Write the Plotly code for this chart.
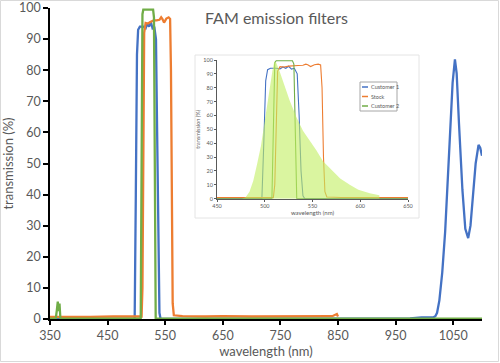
import plotly.graph_objects as go

# ---------------- data ----------------
cust1_wl = [350, 497, 499, 501, 503, 506, 512, 516, 519, 522, 525, 528, 531, 534, 536, 538, 540, 542,
            950, 975, 995, 1005, 1015, 1019, 1022, 1026, 1031, 1036, 1040, 1045, 1049, 1053, 1056,
            1060, 1066, 1071, 1076, 1080, 1085, 1089, 1094, 1097, 1100]
cust1_tr = [0, 0, 40, 85, 93, 94, 94, 93.5, 95, 94, 95.5, 93.5, 94, 90, 60, 20, 2, 0,
            0, 0.2, 0.5, 0.6, 0.5, 0.9, 2, 6, 15, 28, 41.5, 62, 76, 83.5, 79,
            63, 41.5, 29, 26, 30, 40, 50, 56, 55, 52.5]

stock_wl = [350, 380, 420, 460, 500, 509, 510.5, 512, 513.5, 516, 520, 525, 530, 535, 540, 543, 545,
            548, 552, 556, 558.5, 560, 561.5, 563, 565, 580, 620, 650, 700, 760, 800, 840, 848, 850]
stock_tr = [0.7, 0.8, 0.7, 0.8, 0.8, 0.8, 10, 60, 92, 95.2, 95, 95.6, 96, 96, 96.2, 97, 96.5,
            95.3, 96.6, 97, 96.5, 80, 30, 5, 1.2, 0.9, 0.8, 0.9, 0.8, 0.9, 0.8, 0.9, 1.6, 0.8]

cust2_wl = [350, 360, 362, 363.5, 365, 366.5, 368, 370, 507.5, 509, 510.5, 512, 529, 530.5, 532, 533.5, 1100]
cust2_tr = [0.1, 0.1, 3, 5.6, 2.5, 5, 0.3, 0.1, 0.1, 40, 98, 99.5, 99.5, 97, 40, 0.1, 0.1]

fam_wl = [476, 480, 484, 488, 492, 496, 500, 503, 506, 508, 510, 512, 515, 520, 526, 533, 540, 547,
          554, 561, 568, 579, 589, 598, 610, 620, 620.01]
fam_em = [0, 1, 5, 13, 25, 38, 56, 70, 82, 92, 99, 98, 93, 83, 71, 59, 49, 42,
          35, 27, 22, 14.5, 10, 6.5, 4, 2.5, 0]

series_names = ["Customer 1", "Stock", "Customer 2"]
series_colors = ["#4472C4", "#ED7D31", "#70AD47"]
series_data = [(cust1_wl, cust1_tr), (stock_wl, stock_tr), (cust2_wl, cust2_tr)]

main_title = "FAM emission filters"
x_title = "wavelength (nm)"
y_title = "transmission (%)"

# ---------------- layout geometry ----------------
W, H = 500, 363
L, R, T, B = 50, 18, 8, 44
PW, PH = W - L - R, H - T - B


def px_x(x):
    return (x - L) / PW


def px_y(y):
    return (H - B - y) / PH


FONT = "Lato, Open Sans, sans-serif"
GREY = "#595959"
fig = go.Figure()

# main chart lines
for name, col, (wl, tr) in zip(series_names, series_colors, series_data):
    fig.add_trace(go.Scatter(x=wl, y=tr, mode="lines", name=name, showlegend=False,
                             line=dict(color=col, width=2.3), xaxis="x", yaxis="y"))

# inset lines
for name, col, (wl, tr) in zip(series_names, series_colors, series_data):
    fig.add_trace(go.Scatter(x=wl, y=tr, mode="lines", name=name, showlegend=False,
                             line=dict(color=col, width=1.1), xaxis="x2", yaxis="y2"))

# FAM emission fill (overlays the lines)
fig.add_trace(go.Scatter(x=fam_wl, y=fam_em, mode="lines", fill="tozeroy", showlegend=False,
                         line=dict(width=0, color="rgba(193,238,97,0)"),
                         fillcolor="rgba(193,238,97,0.6)", xaxis="x2", yaxis="y2"))

tick_font = dict(family=FONT, size=12.5, color=GREY)
small_font = dict(family=FONT, size=5.5, color=GREY)

inset_x = [px_x(217), px_x(408)]
inset_y = [px_y(198.7), px_y(60)]

fig.update_layout(
    template="none",
    width=W, height=H, margin=dict(l=L, r=R, t=T, b=B, autoexpand=False),
    paper_bgcolor="white", plot_bgcolor="white",
    showlegend=False,
    xaxis=dict(range=[350, 1100], tick0=350, dtick=100, showgrid=False, zeroline=False, automargin=False,
               showline=True, linecolor="black", linewidth=1.5, ticks="outside", ticklen=4,
               tickcolor="black", tickwidth=1.5, tickfont=tick_font, layer="below traces",
               title=dict(text=x_title, font=dict(family=FONT, size=13, color=GREY), standoff=4)),
    yaxis=dict(range=[0, 100], dtick=10, showgrid=False, zeroline=False, automargin=False,
               showline=True, linecolor="black", linewidth=1.5, ticks="outside", ticklen=5,
               tickcolor="black", tickwidth=1.5, tickfont=tick_font, layer="below traces",
               title=dict(text=y_title, font=dict(family=FONT, size=13, color=GREY), standoff=5)),
    xaxis2=dict(domain=inset_x, anchor="y2", range=[450, 650], dtick=50, showgrid=False, zeroline=False,
                automargin=False,
                showline=True, linecolor=GREY, linewidth=1, ticks="outside", ticklen=2,
                tickcolor=GREY, tickfont=small_font, layer="below traces",
                title=dict(text=x_title, font=dict(family=FONT, size=6, color=GREY), standoff=2)),
    yaxis2=dict(domain=inset_y, anchor="x2", range=[0, 100], dtick=10, showgrid=False, zeroline=False,
                automargin=False,
                showline=True, linecolor=GREY, linewidth=1, ticks="outside", ticklen=2,
                tickcolor=GREY, tickfont=small_font, layer="below traces",
                title=dict(text=y_title, font=dict(family=FONT, size=5.5, color=GREY), standoff=2)),
)

# outer chart border + inset box
fig.add_shape(type="rect", xref="paper", yref="paper",
              x0=px_x(0.5), x1=px_x(498.5), y0=px_y(361.5), y1=px_y(0.5),
              line=dict(color="#D9D9D9", width=1), fillcolor="rgba(0,0,0,0)", layer="below")
fig.add_shape(type="rect", xref="paper", yref="paper",
              x0=px_x(195), x1=px_x(419), y0=px_y(218), y1=px_y(55),
              line=dict(color="#E4E4E4", width=1), fillcolor="white", layer="below")

# title
fig.add_annotation(text=main_title, xref="paper", yref="paper", x=px_x(203), y=px_y(17),
                   xanchor="left", yanchor="middle", showarrow=False,
                   font=dict(family=FONT, size=16, color=GREY))

# inset legend (custom, compact)
lx0, lx1, ly0, ly1 = 360, 397, 82, 111
fig.add_shape(type="rect", xref="paper", yref="paper",
              x0=px_x(lx0), x1=px_x(lx1), y0=px_y(ly1), y1=px_y(ly0),
              line=dict(color="#A6A6A6", width=1), fillcolor="white", layer="above")
for i, (name, col) in enumerate(zip(series_names, series_colors)):
    yy = ly0 + 5 + i * 9.5
    fig.add_shape(type="line", xref="paper", yref="paper",
                  x0=px_x(lx0 + 2), x1=px_x(lx0 + 8), y0=px_y(yy), y1=px_y(yy),
                  line=dict(color=col, width=1.5), layer="above")
    fig.add_annotation(text=name, xref="paper", yref="paper", x=px_x(lx0 + 9), y=px_y(yy),
                       xanchor="left", yanchor="middle", showarrow=False,
                       font=dict(family=FONT, size=5.5, color=GREY))

fig.write_html("out.html", config={"displayModeBar": False},
               post_script="document.body.style.margin='0';document.body.style.overflow='hidden';")
